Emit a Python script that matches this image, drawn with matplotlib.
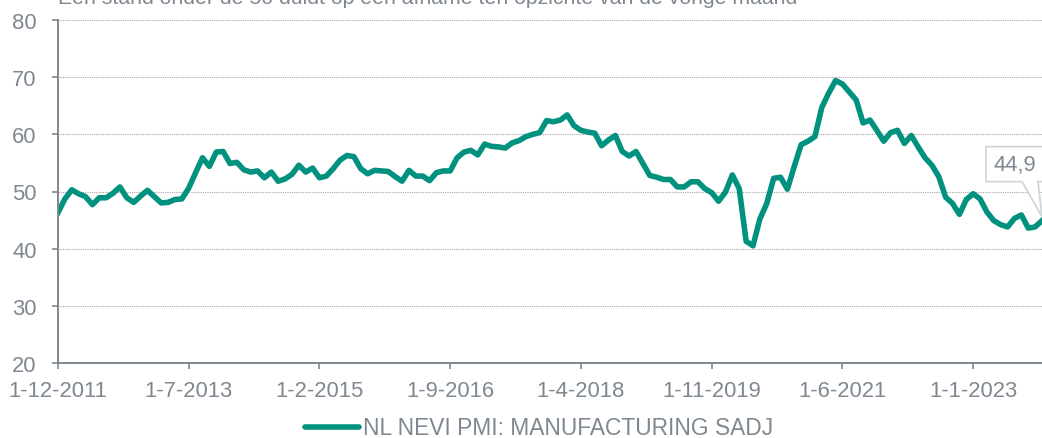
import matplotlib
matplotlib.use("Agg")
import matplotlib.pyplot as plt
from matplotlib.patches import Polygon
import numpy as np
import pandas as pd

plt.rcParams['font.family'] = ['Liberation Sans', 'DejaVu Sans']

# maandelijkse NEVI PMI, december 2011 t/m november 2023
start_month = '2011-12-01'
pmi = [
    46.3, 48.7, 50.3, 49.6, 49.1, 47.7, 48.9, 48.9, 49.7, 50.8, 48.9, 48.1,
    49.2, 50.2, 49.1, 48.0, 48.1, 48.6, 48.7, 50.6, 53.3, 55.9, 54.4, 56.9,
    57.0, 54.9, 55.1, 53.8, 53.4, 53.6, 52.4, 53.4, 51.8, 52.2, 53.0, 54.6,
    53.4, 54.1, 52.4, 52.7, 54.0, 55.5, 56.3, 56.1, 54.0, 53.1, 53.7, 53.6,
    53.5, 52.6, 51.8, 53.7, 52.7, 52.7, 51.9, 53.3, 53.6, 53.6, 55.9, 56.9,
    57.2, 56.4, 58.3, 57.9, 57.8, 57.6, 58.5, 58.9, 59.6, 60.0, 60.3, 62.4,
    62.2, 62.5, 63.4, 61.5, 60.7, 60.4, 60.2, 58.0, 59.0, 59.8, 57.0, 56.2,
    57.0, 54.9, 52.8, 52.5, 52.1, 52.1, 50.8, 50.8, 51.7, 51.7, 50.5, 49.8,
    48.3, 49.9, 52.9, 50.5, 41.3, 40.5, 45.2, 47.9, 52.3, 52.5, 50.4, 54.4,
    58.2, 58.8, 59.6, 64.7, 67.2, 69.4, 68.8, 67.4, 66.0, 62.0, 62.5, 60.7,
    58.8, 60.3, 60.7, 58.4, 59.8, 57.8, 55.9, 54.6, 52.6, 49.0, 47.9, 46.0,
    48.6, 49.6, 48.7, 46.4, 44.9, 44.2, 43.8, 45.3, 45.9, 43.6, 43.8, 44.9,
]
series_name = 'NL NEVI PMI: MANUFACTURING SADJ'
subtitle = 'Een stand onder de 50 duidt op een afname ten opzichte van de vorige maand'
tick_step = 19
y_ticks = [20, 30, 40, 50, 60, 70, 80]

months = pd.date_range(start_month, periods=len(pmi), freq='MS')
x = np.arange(len(pmi))
tick_pos = x[::tick_step]
tick_labels = ['{}-{}-{}'.format(d.day, d.month, d.year) for d in months[::tick_step]]

teal = '#00927f'
grey = '#7f8891'
W, H = 1042, 439
fs = 15.8

fig = plt.figure(figsize=(W / 100, H / 100), dpi=100)
ax = fig.add_axes([58 / W, (H - 364) / H, (W - 58) / W, (364 - 21) / H])

ax.plot(x, pmi, color=teal, lw=4.0, solid_joinstyle='round', label=series_name)

ax.set_xlim(x[0], x[-1])
ax.set_ylim(y_ticks[0], y_ticks[-1])
ax.set_yticks(y_ticks)
ax.set_xticks(tick_pos)
ax.set_xticklabels(tick_labels)

ax.grid(axis='y', color='#a6a6a6', lw=0.8, ls=(0, (1, 1)))
ax.set_axisbelow(True)
for side in ['top', 'right']:
    ax.spines[side].set_visible(False)
for side in ['left', 'bottom']:
    ax.spines[side].set_color(grey)
    ax.spines[side].set_linewidth(1.4)
ax.tick_params(axis='both', colors=grey, labelsize=fs, width=1.2, length=4.3)
ax.tick_params(axis='y', pad=11)
ax.tick_params(axis='x', pad=8)

# de ondertitel valt in het origineel half buiten beeld
fig.text(58 / W, 1 - 4 / H, subtitle, color=grey, fontsize=15.35, va='baseline', ha='left')

leg = fig.legend(loc='center', bbox_to_anchor=(0.517, 1 - 429 / H), frameon=False,
                 fontsize=16.4, handlelength=2.4, handletextpad=0.15,
                 labelcolor=grey)
for h in leg.get_lines():
    h.set_linewidth(4)
    h.set_solid_capstyle('round')

# label bij het laatste punt, als tekstballon
fig.canvas.draw()
tx, ty = ax.transData.transform((x[-1], pmi[-1]))
box = [(-56, 39), (-56, 74), (30, 74), (30, 39), (-4, 39), (0, 4), (-20, 39)]
bubble = Polygon([(tx + dx, ty + dy) for dx, dy in box], closed=True,
                 facecolor='white', edgecolor='#cdd5d9', lw=1.2,
                 transform=None, zorder=5)
fig.add_artist(bubble)
fig.text(tx - 48, ty + 56.5, '{:.1f}'.format(pmi[-1]).replace('.', ','),
         transform=None, color=grey, fontsize=fs, va='center', ha='left', zorder=6)

fig.savefig('out.png', dpi=100)
